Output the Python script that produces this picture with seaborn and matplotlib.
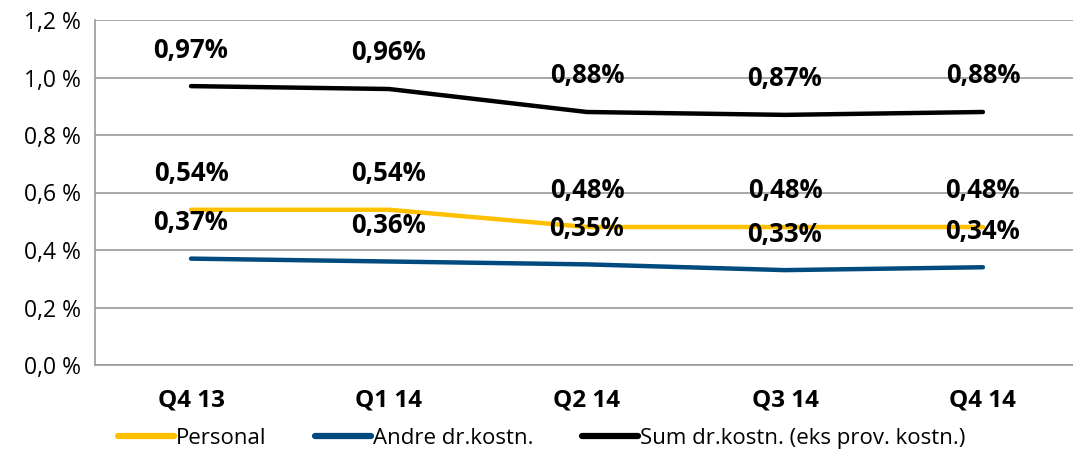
import pandas as pd
import matplotlib
matplotlib.use("Agg")
import matplotlib.pyplot as plt
from matplotlib.ticker import FuncFormatter, FixedLocator
import seaborn as sns

quarters = ["Q4 13", "Q1 14", "Q2 14", "Q3 14", "Q4 14"]
personal = [0.54, 0.54, 0.48, 0.48, 0.48]
andre = [0.37, 0.36, 0.35, 0.33, 0.34]
sum_kost = [0.97, 0.96, 0.88, 0.87, 0.88]
series_names = ["Personal", "Andre dr.kostn.", "Sum dr.kostn. (eks prov. kostn.)"]
colors = ["#FFC000", "#004A80", "#000000"]

df = pd.DataFrame({
    "kvartal": quarters * 3,
    "verdi": personal + andre + sum_kost,
    "serie": [series_names[0]] * 5 + [series_names[1]] * 5 + [series_names[2]] * 5,
})
df["x"] = list(range(5)) * 3

sns.set_style("white")
plt.rcParams["font.family"] = ["Open Sans", "DejaVu Sans"]
plt.rcParams["text.color"] = "black"
plt.rcParams["xtick.color"] = "black"
plt.rcParams["ytick.color"] = "black"

fig = plt.figure(figsize=(10.73, 4.49), dpi=100)
ax = fig.add_axes([95 / 1073, 1 - 365 / 449, 1 - 95 / 1073, (365 - 20) / 449])

sns.lineplot(data=df, x="x", y="verdi", hue="serie", palette=colors,
             hue_order=series_names, linewidth=3.2, ax=ax, legend=False)

for vals in [personal, andre, sum_kost]:
    for i, v in enumerate(vals):
        ax.annotate(f"{v:.2f}%".replace(".", ","), (i, v), xytext=(0, 26),
                    textcoords="offset points", ha="center", va="center",
                    fontsize=18.5, fontweight="bold", color="black")

ax.set_xlim(-0.485, 4.455)
ax.set_ylim(0, 1.2)
ax.set_yticks([0, 0.2, 0.4, 0.6, 0.8, 1.0, 1.2])
ax.yaxis.set_major_formatter(FuncFormatter(lambda v, p: f"{v:.1f} %".replace(".", ",")))
ax.set_xticks(range(5))
ax.set_xticklabels(quarters, fontweight="bold", fontsize=17.5)
ax.xaxis.set_minor_locator(FixedLocator([-0.5, 0.5, 1.5, 2.5, 3.5, 4.5]))
ax.tick_params(axis="x", which="major", length=0, pad=17, labelcolor="black")
ax.tick_params(axis="x", which="minor", length=6, color="#999999", width=1.2)
ax.tick_params(axis="y", length=7, color="#999999", width=1.2, labelsize=16.5, pad=3,
               labelcolor="black")
ax.set_xlabel("")
ax.set_ylabel("")
ax.grid(axis="y", color="#999999", linewidth=1.2)
for s in ["top", "right"]:
    ax.spines[s].set_visible(False)
for s in ["left", "bottom"]:
    ax.spines[s].set_color("#999999")
    ax.spines[s].set_linewidth(1.2)

handles = [plt.Line2D([], [], color=c, linewidth=4.5, solid_capstyle="round") for c in colors]
fig.legend(handles, series_names, loc="lower center", bbox_to_anchor=(0.505, -0.045),
           ncol=3, frameon=False, fontsize=16, handlelength=2.5, handletextpad=0.1,
           columnspacing=2.2, labelcolor="black")

fig.savefig("out.png", dpi=100)
